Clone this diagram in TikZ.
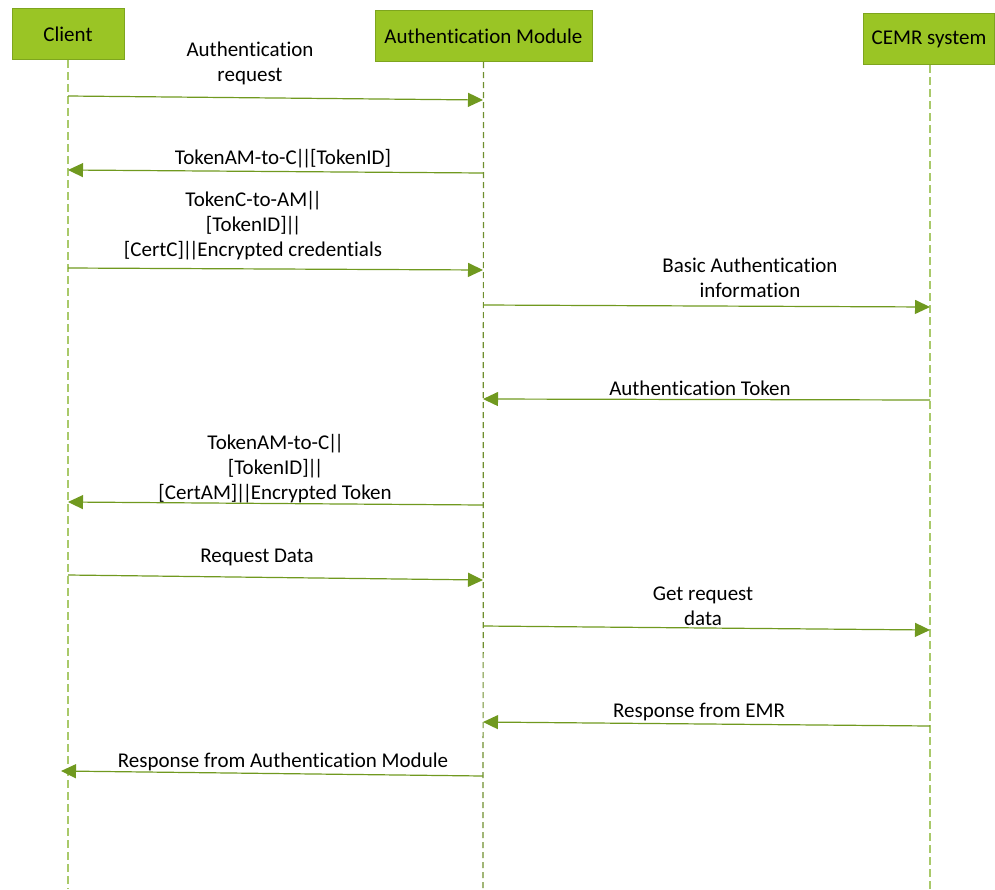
\documentclass[tikz,border=0pt]{standalone}
\usepackage{fontspec}
\setmainfont[Ligatures=NoCommon]{Carlito}
\usetikzlibrary{arrows.meta}
\definecolor{boxfill}{HTML}{9AC525}
\definecolor{boxline}{HTML}{7EA51E}
\definecolor{lifelt}{HTML}{A9C96A}
\definecolor{lifedk}{HTML}{6F8F2E}
\definecolor{msg}{HTML}{70991F}
\newcommand{\dbar}{\kern-1.5pt|\kern-3pt|\kern-1.5pt}
\tikzset{
  actor/.style={draw=boxline, line width=1pt, fill=boxfill, minimum height=51pt,
    inner xsep=6pt, font=\fontsize{21}{22}\selectfont, text=black},
  lifeline/.style={line width=1.4pt, dash pattern=on 8pt off 4pt},
  msgline/.style={draw=msg, line width=1.2pt, -{Triangle[length=15pt,width=14pt]}},
  msglabel/.style={font=\fontsize{21}{25}\selectfont, align=center, inner sep=0pt, text=black}
}
\begin{document}
\begin{tikzpicture}[x=1pt,y=-1pt]
\useasboundingbox (0,0) rectangle (995,889);

% participants
\node[actor, minimum width=112pt] (client) at (68,34) {Client};
\node[actor, minimum width=217pt] (am) at (483.5,36) {Authentication Module};
\node[actor, minimum width=131pt] (cemr) at (929,39) {CEMR system};

% lifeline ends
\coordinate (clientEnd) at (68,889);
\coordinate (amEnd) at (483,889);
\coordinate (cemrEnd) at (930,889);
\draw[lifeline, draw=lifelt] (client.south) -- (clientEnd);
\draw[lifeline, draw=lifedk, dash pattern=on 6pt off 4pt, line width=1.2pt] (am.south) -- (amEnd);
\draw[lifeline, draw=lifelt] (cemr.south -| cemrEnd) -- (cemrEnd);

% message anchor points on the lifelines
\coordinate (c1) at (68,96);   \coordinate (a1) at (483,100);
\coordinate (a2) at (483,173); \coordinate (c2) at (68,170);
\coordinate (c3) at (68,268);  \coordinate (a3) at (483,270);
\coordinate (a4) at (483,305); \coordinate (e4) at (930,307);
\coordinate (e5) at (930,400); \coordinate (a5) at (483,399);
\coordinate (a6) at (483,505); \coordinate (c6) at (68,502);
\coordinate (c7) at (68,575);  \coordinate (a7) at (483,580);
\coordinate (a8) at (483,626); \coordinate (e8) at (930,630);
\coordinate (e9) at (930,726); \coordinate (a9) at (483,722);
\coordinate (a10) at (483,776); \coordinate (c10) at (61,771);

% messages
\draw[msgline] (c1) -- (a1);
\draw[msgline] (a2) -- (c2);
\draw[msgline] (c3) -- (a3);
\draw[msgline] (a4) -- (e4);
\draw[msgline] (e5) -- (a5);
\draw[msgline] (a6) -- (c6);
\draw[msgline] (c7) -- (a7);
\draw[msgline] (a8) -- (e8);
\draw[msgline] (e9) -- (a9);
\draw[msgline] (a10) -- (c10);

% labels
\node[msglabel] (l1) at (250,63) {Authentication\\request};
\node[msglabel] (l2) at (283,159) {TokenAM-to-C\dbar[TokenID]};
\node[msglabel] (l3) at (253,226) {TokenC-to-AM\dbar\\{}[TokenID]\dbar\\{}[CertC]\dbar Encrypted credentials};
\node[msglabel] (l4) at (750,278) {Basic Authentication\\information};
\node[msglabel] (l5) at (700,388) {Authentication Token};
\node[msglabel] (l6) at (275,469) {TokenAM-to-C\dbar\\{}[TokenID]\dbar\\{}[CertAM]\dbar Encrypted Token};
\node[msglabel] (l7) at (257,557) {Request Data};
\node[msglabel] (l8) at (703,606) {Get request\\data};
\node[msglabel] (l9) at (699,712) {Response from EMR};
\node[msglabel] (l10) at (283,762) {Response from Authentication Module};
\end{tikzpicture}
\end{document}
